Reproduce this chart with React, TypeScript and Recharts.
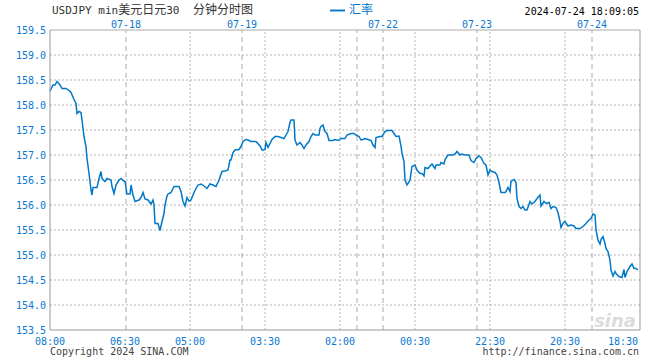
import React from 'react';
import { LineChart, Line, XAxis, YAxis, ReferenceLine, Legend } from 'recharts';

// bar index (0..590) and USDJPY rate
const barIndex = [
  0, 3, 5, 7, 10, 12, 16, 19, 21, 24, 26, 27, 29, 31, 32, 34, 36, 37, 39, 41, 42, 43, 47, 49, 51, 52, 55, 57, 61, 62, 64, 66, 69, 71, 73, 75, 77, 80, 81, 83, 85, 89, 91, 93, 95, 98, 101, 103, 104, 105, 108, 110, 112, 114, 115, 117,
  118, 121, 124, 129, 131, 133, 135, 137, 139, 141, 144, 146, 148, 151, 154, 157, 160, 163, 166, 169, 172, 175, 178, 180, 181, 183, 185, 189, 191, 193, 196, 198, 201, 206, 210, 212, 215, 216, 218, 220, 222, 225, 228, 231, 234, 236, 238,
  240, 241, 244, 245, 247, 250, 252, 254, 256, 259, 261, 263, 265, 269, 270, 271, 273, 275, 277, 279, 283, 285, 288, 291, 295, 297, 301, 304, 306, 309, 311, 313, 315, 318, 321, 323, 325, 326, 330, 332, 335, 337, 342, 344, 346, 349, 351, 352, 354, 355, 357,
  358, 360, 362, 365, 367, 370, 372, 374, 375, 378, 380, 382, 385, 386, 390, 391, 394, 395, 398, 403, 405, 407, 410, 412, 415, 419, 421, 424, 426, 429, 431, 434, 436, 438, 440, 442, 445, 447, 449, 451, 455, 456, 458, 460, 461, 464, 466, 467, 469, 471, 473, 475, 477,
  480, 482, 485, 487, 490, 491, 494, 496, 499, 501, 503, 506, 508, 510, 511, 513, 515, 518, 521, 524, 526, 530, 533, 536, 539, 541, 543, 545, 546, 548, 550, 551, 553, 555, 556, 558, 560, 561, 563, 565, 566, 569, 572, 574, 575, 577, 580, 582, 584, 586, 588,
];
const rate = [
  158.28, 158.4, 158.4, 158.47, 158.4, 158.33, 158.33, 158.29, 158.25, 158.11, 158.03, 157.83, 157.87, 157.85, 157.7, 157.37, 157.17, 156.93, 156.63, 156.3, 156.2, 156.35, 156.35, 156.53, 156.67, 156.53, 156.47, 156.53, 156.5, 156.37, 156.23, 156.4, 156.5, 156.53, 156.49, 156.47, 156.22, 156.22, 156.4, 156.2, 156.07, 156.1, 156.15, 156.25, 156.12, 156.1, 156.02, 156.1, 156.0, 155.63, 155.63, 155.49, 155.67, 155.83, 156.0, 156.18,
  156.22, 156.25, 156.37, 156.37, 156.27, 156.07, 155.98, 156.15, 156.08, 156.1, 156.25, 156.33, 156.4, 156.42, 156.38, 156.33, 156.42, 156.4, 156.37, 156.5, 156.67, 156.68, 156.7, 156.9, 156.9, 157.05, 157.1, 157.11, 157.17, 157.27, 157.31, 157.3, 157.27, 157.27, 157.18, 157.1, 157.11, 157.25, 157.15, 157.23, 157.31, 157.37, 157.37, 157.35, 157.33, 157.4, 157.47,
  157.65, 157.7, 157.7, 157.3, 157.2, 157.25, 157.2, 157.13, 157.2, 157.27, 157.37, 157.43, 157.4, 157.4, 157.53, 157.57, 157.6, 157.47, 157.43, 157.29, 157.29, 157.31, 157.29, 157.33, 157.33, 157.4, 157.43, 157.43, 157.4, 157.37, 157.3, 157.31, 157.33, 157.31, 157.29, 157.2, 157.15, 157.35, 157.37, 157.37, 157.47, 157.49, 157.49, 157.43, 157.37, 157.38, 157.18, 157.03, 156.87, 156.5, 156.4,
  156.43, 156.5, 156.77, 156.8, 156.7, 156.63, 156.63, 156.58, 156.75, 156.73, 156.78, 156.82, 156.73, 156.8, 156.8, 156.85, 156.82, 156.91, 157.0, 157.0, 157.02, 157.07, 157.0, 157.02, 157.0, 157.0, 156.89, 156.85, 156.93, 156.98, 156.95, 156.83, 156.8, 156.6, 156.7, 156.67, 156.65, 156.6, 156.45, 156.25, 156.25, 156.27, 156.35, 156.27, 156.47, 156.51, 156.45, 156.13, 155.97, 155.93, 155.97, 155.9, 155.9,
  156.07, 156.02, 156.07, 156.13, 156.2, 155.98, 156.07, 156.03, 156.05, 155.93, 155.97, 155.95, 155.85, 155.67, 155.55, 155.63, 155.67, 155.58, 155.6, 155.58, 155.53, 155.53, 155.57, 155.63, 155.7, 155.73, 155.82, 155.8, 155.5, 155.3, 155.22, 155.31, 155.37, 155.23, 155.13, 155.07, 154.9, 154.7, 154.58, 154.67, 154.63, 154.57, 154.55, 154.71, 154.55, 154.67, 154.77, 154.82, 154.73, 154.73, 154.7,
];

const xTickValues = [0, 75, 140, 215, 290, 365, 440, 515, 573];
const xTickLabels = ['08:00', '06:30', '05:00', '03:30', '02:00', '00:30', '22:30', '20:30', '18:30'];
const gridX = [140, 215, 290, 365, 440, 515];
const dayBreaks = [76, 192, 307, 333, 427, 542];
const dayLabels = ['07-18', '07-19', '', '07-22', '07-23', '07-24'];
const yTicks = [153.5, 154.0, 154.5, 155.0, 155.5, 156.0, 156.5, 157.0, 157.5, 158.0, 158.5, 159.0, 159.5];
const gridY = [154.0, 154.5, 155.0, 155.5, 156.0, 156.5, 157.0, 157.5, 158.0, 158.5, 159.0];

const data = barIndex.map((t, i) => ({ t, v: rate[i] }));

const MONO = '"DejaVu Sans Mono", "Liberation Mono", monospace';
const CJK = '"Noto Sans CJK SC", sans-serif';
const BLUE = '#0a78d2';
const LINE = '#0078c8';

export default function App() {
  return (
    <div style={{ position: 'absolute', left: 0, top: 0, width: 660, height: 360, background: '#fff' }}>
      <LineChart width={660} height={360} data={data} margin={{ top: 30, right: 20, bottom: 10, left: 0 }}>
        <XAxis
          dataKey="t"
          type="number"
          domain={[0, 590]}
          ticks={xTickValues}
          interval={0}
          tickFormatter={(v: number) => xTickLabels[xTickValues.indexOf(v)] ?? ''}
          height={20}
          tickSize={0}
          tickMargin={8}
          axisLine={{ stroke: '#999' }}
          tick={{ fontFamily: MONO, fontSize: 10, fill: BLUE }}
        />
        <YAxis
          type="number"
          domain={[153.5, 159.5]}
          ticks={yTicks}
          interval={0}
          width={50}
          tickSize={0}
          tickMargin={4}
          tickFormatter={(v: number) => v.toFixed(1)}
          axisLine={{ stroke: '#999' }}
          tick={{ fontFamily: MONO, fontSize: 10, fill: BLUE }}
        />
        {gridY.map((y) => (
          <ReferenceLine key={'gy' + y} y={y} stroke="#b4b4b4" strokeDasharray="2 2" />
        ))}
        {gridX.map((x) => (
          <ReferenceLine key={'gx' + x} x={x} stroke="#b4b4b4" strokeDasharray="2 2" />
        ))}
        {dayBreaks.map((x, i) => (
          <ReferenceLine
            key={'d' + x}
            x={x}
            stroke="#aaa"
            strokeDasharray="5 4"
            label={dayLabels[i] ? { value: dayLabels[i], position: 'top', offset: 2, fill: BLUE, fontFamily: MONO, fontSize: 10 } : undefined}
          />
        ))}
        <ReferenceLine y={159.5} stroke="#aaa" />
        <ReferenceLine x={590} stroke="#999" />
        <Legend
          verticalAlign="middle"
          align="center"
          layout="horizontal"
          iconType="plainline"
          iconSize={15}
          wrapperStyle={{ left: 330, top: 1, width: 'auto', fontFamily: CJK, fontSize: 12, lineHeight: '16px' }}
        />
        <Line
          type="linear"
          dataKey="v"
          name="汇率"
          stroke={LINE}
          strokeWidth={1.5}
          dot={false}
          isAnimationActive={false}
        />
      </LineChart>
      <svg width={660} height={360} style={{ position: 'absolute', left: 0, top: 0, pointerEvents: 'none' }}>
        <text x={52} y={14} fill="#333" fontFamily={`${MONO}, ${CJK}`}>
          <tspan fontSize={11}>USDJPY min</tspan>
          <tspan fontSize={12} fontFamily={CJK}>美元日元</tspan>
          <tspan fontSize={11}>30</tspan>
          <tspan fontSize={11} xmlSpace="preserve">{'  '}</tspan>
          <tspan x={193} fontSize={12} fontFamily={CJK}>分钟分时图</tspan>
        </text>
        <text x={639} y={15} textAnchor="end" fill="#000" fontFamily={MONO} fontSize={10}>2024-07-24 18:09:05</text>
        <text x={50} y={355} fill="#444" fontFamily={MONO} fontSize={10}>Copyright 2024 SINA.COM</text>
        <text x={639} y={355} textAnchor="end" fill="#444" fontFamily={MONO} fontSize={10}>http://finance.sina.com.cn</text>
        <text x={636} y={327} textAnchor="end" fill="#dcdcdc" fontFamily="DejaVu Sans" fontStyle="italic" fontWeight="bold" fontSize={18}>sina</text>
      </svg>
    </div>
  );
}
